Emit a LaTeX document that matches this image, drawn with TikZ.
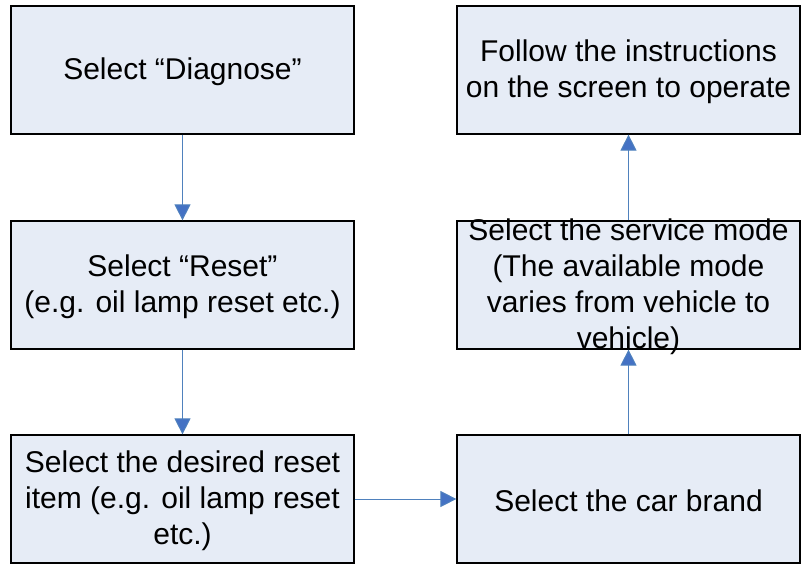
\documentclass[tikz,border=0pt]{standalone}
\usepackage{fontspec}
\setmainfont{Liberation Sans}
\usetikzlibrary{arrows.meta}
\definecolor{boxfill}{HTML}{E6ECF6}
\definecolor{arrowblue}{HTML}{4F81BD}
\definecolor{headblue}{HTML}{4472C4}
\tikzset{
  flowbox/.style={draw=black, line width=1.2pt, fill=boxfill, minimum width=343pt, minimum height=128pt, inner sep=0pt},
  flowtext/.style={inner sep=0pt, align=center, text=black, font=\fontsize{30}{36}\selectfont, yshift=-2pt},
  flowarrow/.style={draw=arrowblue, line width=1pt, -{Triangle[width=16pt,length=16pt,fill=headblue]}}
}
\begin{document}
\begin{tikzpicture}[x=1pt,y=-1pt]
\useasboundingbox (0,0) rectangle (801,564);
\node[flowbox, label={[flowtext]center:Select “Diagnose”}] (diag) at (182.5,70) {};
\node[flowbox, label={[flowtext]center:Select “Reset”\\(e.g. oil lamp reset etc.)}] (reset) at (182.5,285) {};
\node[flowbox, label={[flowtext]center:Select the desired reset\\item (e.g. oil lamp reset\\etc.)}] (item) at (182.5,499) {};
\node[flowbox, label={[flowtext]center:Select the car brand}] (brand) at (628.5,499) {};
\node[flowbox, label={[flowtext]center:Select the service mode\\(The available mode\\varies from vehicle to\\vehicle)}] (mode) at (628.5,285) {};
\node[flowbox, label={[flowtext]center:Follow the instructions\\on the screen to operate}] (follow) at (628.5,70) {};
\draw[flowarrow] (diag) -- (reset);
\draw[flowarrow] (reset) -- (item);
\draw[flowarrow] (item) -- (brand);
\draw[flowarrow] (brand) -- (mode);
\draw[flowarrow] (mode) -- (follow);
\end{tikzpicture}
\end{document}
